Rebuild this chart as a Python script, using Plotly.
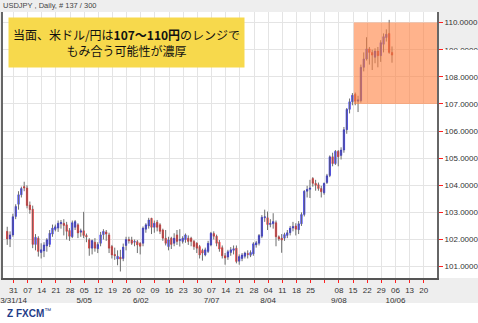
import numpy as np
import pandas as pd
import plotly.graph_objects as go

# Daily USD/JPY bars, 2014-03-26 .. 2014-10-02 (137 trading days)
dates = pd.bdate_range("2014-03-26", "2014-10-02")

opens = [
    102.30, 102.02, 102.17,
    102.85, 103.30, 103.65, 103.95, 103.90,
    103.27, 103.12, 101.82, 102.05, 101.52,
    101.58, 101.76, 101.82, 102.20, 102.37,
    102.42, 102.58, 102.60, 102.54, 102.33,
    102.10, 102.45, 102.54, 102.27, 102.32,
    102.15, 101.99, 101.68, 101.90, 101.66,
    101.86, 102.18, 102.28, 102.17, 101.74,
    101.45, 101.28, 101.35, 101.30, 101.78,
    102.00, 101.98, 101.90, 101.92, 101.86,
    101.86, 102.38, 102.50, 102.78, 102.45,
    102.64, 102.54, 102.35, 102.05, 101.74,
    102.05, 101.86, 102.17, 101.96, 101.93,
    102.00, 102.05, 102.05, 101.93, 101.86,
    101.74, 101.60, 101.43, 101.56, 101.80,
    102.22, 102.12, 101.90, 101.70, 101.40,
    101.35, 101.52, 101.60, 101.68, 101.20,
    101.30, 101.38, 101.48, 101.42, 101.47,
    101.80, 101.86, 102.12, 102.80, 102.80,
    102.55, 102.58, 102.62, 102.10, 102.05,
    102.05, 102.15, 102.25, 102.42, 102.50,
    102.36, 102.58, 102.92, 103.78, 103.85,
    104.25, 104.07, 104.02, 103.88, 103.72,
    104.10, 104.36, 105.05, 104.80, 105.25,
    105.10, 105.30, 106.05, 106.80, 107.08,
    107.36, 107.10, 107.12, 108.35, 108.66,
    109.03, 108.90, 108.72, 108.95, 108.78,
    109.20, 109.45, 109.60, 108.90,
]
highs = [
    102.47, 102.30, 102.95,
    103.30, 103.78, 103.95, 104.13, 104.00,
    103.40, 103.25, 102.20, 102.12, 101.86,
    101.90, 102.05, 102.35, 102.55, 102.55,
    102.70, 102.72, 102.75, 102.65, 102.42,
    102.70, 102.72, 102.60, 102.40, 103.02,
    102.22, 102.05, 102.00, 102.05, 101.90,
    102.28, 102.38, 102.35, 102.25, 101.80,
    101.70, 101.60, 101.62, 101.85, 102.10,
    102.10, 102.10, 102.00, 101.98, 101.90,
    102.48, 102.60, 102.80, 102.80, 102.70,
    102.72, 102.60, 102.40, 102.35, 102.10,
    102.10, 102.23, 102.35, 102.38, 102.12,
    102.22, 102.15, 102.10, 101.98, 101.90,
    101.80, 101.66, 101.70, 101.95, 102.28,
    102.30, 102.18, 101.98, 101.78, 101.50,
    101.62, 101.72, 101.78, 101.78, 101.45,
    101.50, 101.55, 101.60, 101.60, 101.90,
    101.95, 102.20, 102.90, 103.10, 103.03,
    102.75, 102.97, 102.70, 102.15, 102.20,
    102.25, 102.35, 102.50, 102.65, 102.60,
    102.68, 103.00, 103.82, 103.98, 104.20,
    104.30, 104.20, 104.10, 103.98, 104.10,
    104.42, 105.10, 105.20, 105.30, 105.30,
    105.40, 106.15, 106.85, 107.20, 107.40,
    107.42, 107.30, 108.45, 108.90, 109.46,
    109.10, 109.00, 109.05, 109.10, 109.35,
    109.60, 109.75, 110.10, 109.12,
]
lows = [
    101.80, 101.72, 102.10,
    102.75, 103.10, 103.55, 103.78, 103.15,
    102.95, 101.68, 101.60, 101.37, 101.30,
    101.35, 101.55, 101.72, 102.10, 102.30,
    102.28, 102.40, 102.15, 102.00, 101.95,
    102.05, 102.35, 102.05, 102.10, 102.05,
    101.90, 101.40, 101.45, 101.55, 101.50,
    101.75, 102.00, 101.95, 101.50, 101.30,
    101.25, 101.05, 100.82, 101.20, 101.60,
    101.85, 101.80, 101.75, 101.50, 101.45,
    101.75, 102.25, 102.40, 102.20, 102.25,
    102.30, 102.20, 101.95, 101.78, 101.60,
    101.65, 101.75, 101.80, 101.74, 101.85,
    101.88, 101.80, 101.75, 101.62, 101.50,
    101.30, 101.22, 101.38, 101.50, 101.75,
    102.00, 101.75, 101.55, 101.30, 101.07,
    101.25, 101.40, 101.45, 101.12, 101.07,
    101.20, 101.30, 101.30, 101.35, 101.40,
    101.70, 101.78, 102.05, 102.65, 102.35,
    102.45, 102.40, 101.75, 101.95, 101.51,
    101.95, 102.05, 102.15, 102.30, 102.15,
    102.20, 102.50, 102.85, 103.55, 103.53,
    103.95, 103.80, 103.80, 103.55, 103.65,
    104.05, 104.30, 104.70, 104.75, 104.70,
    104.95, 105.20, 105.90, 106.65, 106.95,
    106.95, 106.70, 107.05, 108.20, 108.60,
    108.45, 108.25, 108.50, 108.35, 108.55,
    108.90, 109.30, 108.85, 108.52,
]
closes = [
    102.02, 102.17, 102.84,
    103.22, 103.65, 103.88, 103.90, 103.25,
    103.10, 101.82, 102.08, 101.56, 101.62,
    101.80, 101.99, 102.23, 102.42, 102.47,
    102.60, 102.63, 102.52, 102.30, 102.12,
    102.62, 102.66, 102.24, 102.32, 102.15,
    102.10, 101.68, 101.96, 101.68, 101.82,
    102.17, 102.30, 102.20, 101.68, 101.43,
    101.40, 101.38, 101.28, 101.72, 102.00,
    101.95, 101.86, 101.93, 101.80, 101.75,
    102.42, 102.54, 102.72, 102.45, 102.60,
    102.45, 102.30, 102.05, 101.86, 101.99,
    101.82, 102.05, 101.93, 102.00, 102.05,
    102.17, 101.93, 101.93, 101.74, 101.68,
    101.43, 101.50, 101.62, 101.86, 102.23,
    102.12, 101.86, 101.65, 101.40, 101.32,
    101.55, 101.62, 101.66, 101.19, 101.37,
    101.43, 101.50, 101.45, 101.52, 101.84,
    101.88, 102.15, 102.82, 102.84, 102.55,
    102.60, 102.66, 102.10, 102.02, 101.98,
    102.18, 102.25, 102.42, 102.48, 102.38,
    102.58, 102.92, 103.78, 103.85, 103.90,
    104.07, 104.00, 103.88, 103.76, 104.07,
    104.35, 105.05, 104.80, 105.25, 105.05,
    105.30, 106.05, 106.80, 107.08, 107.32,
    107.10, 107.15, 108.35, 108.66, 109.03,
    108.90, 108.80, 108.95, 108.78, 109.26,
    109.48, 109.57, 108.90, 108.80,
]

# Weekly axis labels (Mondays); a second line marks the first labelled Monday of each month
week_mondays = pd.date_range("2014-03-31", "2014-10-20", freq="7D")
day_labels = ["31", "07", "14", "21", "28", "05", "12", "19", "26", "02", "09", "16",
              "23", "30", "07", "14", "21", "28", "04", "11", "18", "25", "", "08",
              "15", "22", "29", "06", "13", "20"]
month_labels = {"2014-03-31": "3/31/14", "2014-05-05": "5/05", "2014-06-02": "6/02",
                "2014-07-07": "7/07", "2014-08-04": "8/04", "2014-09-08": "9/08",
                "2014-10-06": "10/06"}

range_low, range_high = 107.0, 110.0
range_start = "2014-09-12"

headline = "当面、米ドル/円は<b>107～110円</b>のレンジで<br>もみ合う可能性が濃厚"

# Trading-day positions: bar k sits at slot k, weekly gridlines fall just before Monday's bar
slot = {d: k for k, d in enumerate(dates)}
x_bars = np.arange(len(dates))
first_monday = slot[pd.Timestamp("2014-03-31")]
tick_pos = [first_monday + 5 * w - 0.78 for w in range(len(week_mondays))]
tick_txt = []
for m, d in zip(week_mondays, day_labels):
    key = m.strftime("%Y-%m-%d")
    tick_txt.append(d + ("<br>" + month_labels[key] if key in month_labels else ""))

o = np.array(opens)
c = np.array(closes)
body_top = np.maximum(o, c)
body_bot = np.minimum(o, c)

x_left = first_monday - 4.49
x_right = first_monday + 148.9

fig = go.Figure()

# wicks
fig.add_trace(go.Ohlc(
    x=x_bars, open=opens, high=highs, low=lows, close=closes,
    tickwidth=0,
    increasing=dict(line=dict(color="#6e6e6e", width=1)),
    decreasing=dict(line=dict(color="#6e6e6e", width=1)),
    hoverinfo="skip",
))
# bodies
fig.add_trace(go.Candlestick(
    x=x_bars, open=opens, high=body_top, low=body_bot, close=closes,
    increasing=dict(fillcolor="#0000ff", line=dict(color="#0000ff", width=0.5)),
    decreasing=dict(fillcolor="#ff0000", line=dict(color="#ff0000", width=0.5)),
    whiskerwidth=0,
    hoverinfo="skip",
))

axis_font = dict(family="Liberation Sans, Arial, sans-serif", size=8, color="#333333")

fig.update_layout(
    width=478, height=323,
    margin=dict(l=3, r=41, t=12, b=45),
    paper_bgcolor="#eeeeee",
    plot_bgcolor="#ffffff",
    showlegend=False,
    xaxis=dict(
        type="linear", automargin=False,
        range=[x_left, x_right],
        rangeslider=dict(visible=False),
        tickmode="array", tickvals=tick_pos, ticktext=tick_txt, tickangle=0,
        ticks="outside", ticklen=3, tickcolor="#ff2020", tickwidth=1,
        tickfont=axis_font,
        showgrid=True, gridcolor="#e4e4e4", gridwidth=1,
        showline=True, linecolor="#555555", linewidth=2,
        zeroline=False, fixedrange=True,
    ),
    yaxis=dict(
        side="right", automargin=False,
        range=[100.58, 110.39],
        dtick=1, tick0=100, tickformat=".4f",
        ticks="outside", ticklen=4, tickcolor="#ff2020", tickwidth=1,
        tickfont=axis_font,
        showgrid=True, gridcolor="#e4e4e4", gridwidth=1,
        showline=True, linecolor="#666666", linewidth=2, mirror=True,
        zeroline=False, fixedrange=True,
    ),
)

# highlighted 107-110 range
fig.add_shape(type="rect", xref="x", yref="y",
              x0=slot[pd.Timestamp(range_start)] + 0.5, x1=x_right,
              y0=range_low, y1=range_high,
              fillcolor="rgba(255,128,64,0.6)", line=dict(width=0), layer="above")

# white panel behind the right-hand price scale and the footer
fig.add_shape(type="rect", xref="paper", yref="paper",
              x0=1.0025, x1=1.2, y0=0.0, y1=0.861,
              fillcolor="#ffffff", line=dict(width=0), layer="below")
fig.add_shape(type="rect", xref="paper", yref="paper",
              x0=1.0085, x1=1.2, y0=0.836, y1=0.857,
              fillcolor="#ffffff", line=dict(width=0), layer="above")
fig.add_shape(type="rect", xref="paper", yref="paper",
              x0=-0.05, x1=1.2, y0=-0.3, y1=-0.094,
              fillcolor="#ffffff", line=dict(width=0), layer="below")

# chart caption
fig.add_annotation(xref="paper", yref="paper", x=-0.004, y=1.026,
                   xanchor="left", yanchor="middle", showarrow=False,
                   text="USDJPY , Daily, # 137 / 300",
                   font=dict(family="Liberation Sans, Arial, sans-serif", size=7.5, color="#444444"))

# headline box
fig.add_annotation(xref="paper", yref="paper", x=0.0115, y=0.9812,
                   xanchor="left", yanchor="top", showarrow=False,
                   text=headline, align="center", valign="middle",
                   width=235, height=49, borderpad=0,
                   bgcolor="#f7d94c",
                   font=dict(family="Noto Sans CJK JP", size=12, color="#111111"))

# broker mark
fig.add_annotation(xref="paper", yref="paper", x=0.004, y=-0.132,
                   xanchor="left", yanchor="middle", showarrow=False,
                   text="<b>Z FXCM</b><sup>™</sup>",
                   font=dict(family="Liberation Sans, Arial, sans-serif", size=10, color="#1f3c88"))

fig.write_html("out.html")
